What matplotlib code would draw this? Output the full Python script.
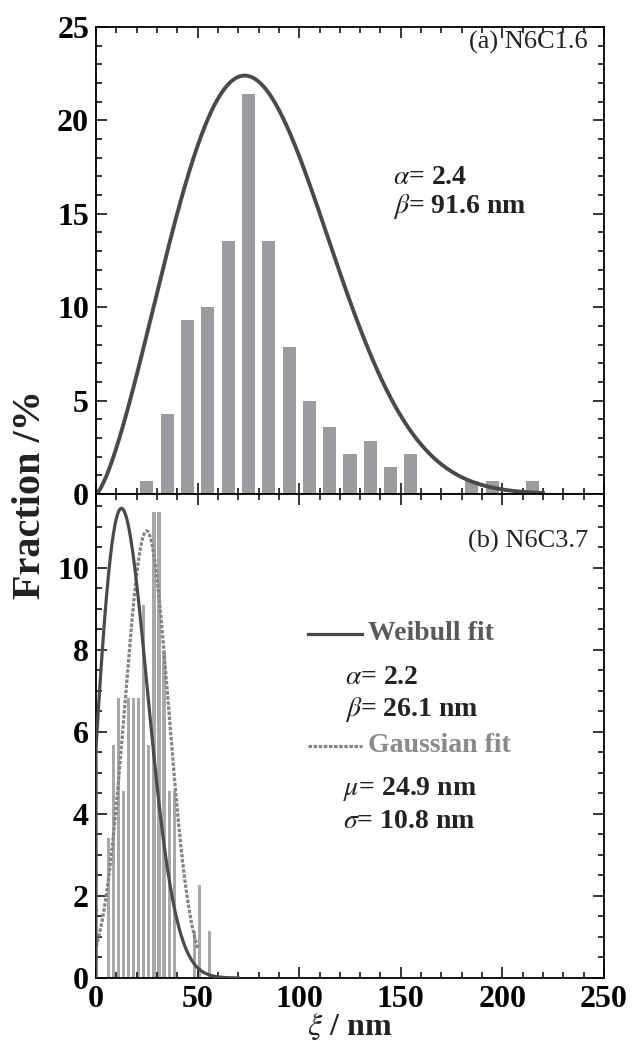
import numpy as np
import matplotlib
matplotlib.use('Agg')
import matplotlib.pyplot as plt
from matplotlib.ticker import MultipleLocator

plt.rcParams['font.family'] = 'Liberation Serif'
plt.rcParams['mathtext.fontset'] = 'stix'

# (a) N6C1.6 : correlation length histogram, 10 nm bins
xi_a = [25, 35, 45, 55, 65, 75, 85, 95, 105, 115, 125, 135, 145, 155, 185, 195, 215]
frac_a = [0.71, 4.29, 9.29, 10.0, 13.57, 21.43, 13.57, 7.86, 5.0, 3.57,
          2.14, 2.86, 1.43, 2.14, 0.71, 0.71, 0.71]
weib_a = (2.4, 91.6)
peak_a = 22.4

# (b) N6C3.7 : 2.5 nm bins
xi_b = [6, 8.5, 11, 13.5, 16, 18.5, 21, 23.5, 26, 28.5, 31, 33.5, 36, 38.5, 48.5, 51, 56]
frac_b = [3.41, 5.68, 6.82, 4.55, 6.82, 6.82, 6.82, 9.09, 5.68, 11.36, 11.36,
          7.95, 4.55, 4.55, 1.14, 2.27, 1.14]
weib_b = (2.2, 26.1)
weib_b_loc = -7.3
peak_wb = 11.45
gauss_b = (24.9, 10.8)
peak_gb = 10.9


def weibull(x, a, b, loc=0.0):
    t = np.clip((x - loc) / b, 0, None)
    return (a / b) * t ** (a - 1) * np.exp(-t ** a)


def gauss(x, mu, sig):
    return np.exp(-0.5 * ((x - mu) / sig) ** 2)


def style(ax, ymaj, ymin):
    ax.set_xlim(0, 250)
    ax.xaxis.set_major_locator(MultipleLocator(50))
    ax.xaxis.set_minor_locator(MultipleLocator(10))
    ax.yaxis.set_major_locator(MultipleLocator(ymaj))
    ax.yaxis.set_minor_locator(MultipleLocator(ymin))
    ax.tick_params(which='both', direction='in', top=True, right=True,
                   width=1.1, labelsize=23, pad=5)
    ax.tick_params(which='major', length=8)
    ax.tick_params(which='minor', length=4)
    for s in ax.spines.values():
        s.set_linewidth(1.3)


W, H = 632, 1041
L, R = 96, 604
fig = plt.figure(figsize=(W / 100, H / 100), dpi=100)
ax1 = fig.add_axes([L / W, 1 - 494 / H, (R - L) / W, 467 / H])
ax2 = fig.add_axes([L / W, 1 - 978 / H, (R - L) / W, 484 / H])


def px(x, y):
    # figure pixel position -> figure fraction
    return x / W, 1 - y / H


def note(x, y, s, **kw):
    kw.setdefault('fontsize', 20)
    kw.setdefault('fontweight', 'bold')
    kw.setdefault('color', '#222222')
    fig.text(*px(x, y), s, va='center', **kw)


# top panel
ax1.bar(xi_a, frac_a, width=6.4, color='#9b9ca0', zorder=1)
xa = np.linspace(0, 220, 600)
ya = weibull(xa, *weib_a)
ax1.plot(xa, ya / ya.max() * peak_a, color='#4a4a4a', lw=2.8, zorder=2)
ax1.set_ylim(0, 25)
style(ax1, 5, 1)
ax1.tick_params(labelbottom=False)

# bottom panel
ax2.bar(xi_b, frac_b, width=1.6, color='#a8a8a8', zorder=1)
xw = np.linspace(0, 70, 500)
yw = weibull(xw, *weib_b, loc=weib_b_loc)
yw = yw / yw.max() * peak_wb
ax2.plot(np.r_[0, xw], np.r_[0, yw], color='#4a4a4a', lw=2.3, zorder=3)
xg = np.linspace(0, 50, 400)
ax2.plot(xg, gauss(xg, *gauss_b) * peak_gb, color='#858585', lw=2.3,
         dashes=(1.1, 0.5), zorder=2)
ax2.set_ylim(0, 11.8)
style(ax2, 2, 0.5)
ax2.set_yticks([0, 2, 4, 6, 8, 10])

for ax in (ax1, ax2):
    for lab in ax.get_xticklabels() + ax.get_yticklabels():
        lab.set_fontweight('bold')

note(588, 42, '(a) N6C1.6', ha='right', fontsize=19, fontweight='normal')
note(393, 177, r'$\alpha$= 2.4', ha='left')
note(393, 207, r'$\beta$= 91.6 nm', ha='left')

lx = np.array([308, 362]) / W
fig.add_artist(plt.Line2D(lx, [1 - 634 / H] * 2, color='#4a4a4a', lw=2.3))
note(368, 634, 'Weibull fit', ha='left', color='#5a5a5a')
note(345, 677, r'$\alpha$= 2.2', ha='left')
note(345, 710, r'$\beta$= 26.1 nm', ha='left')
fig.add_artist(plt.Line2D(lx, [1 - 746 / H] * 2, color='#858585', lw=2.3,
                          dashes=(1.1, 0.5)))
note(368, 746, 'Gaussian fit', ha='left', color='#8a8a8a')
note(343, 789, r'$\mu$= 24.9 nm', ha='left')
note(343, 822, r'$\sigma$= 10.8 nm', ha='left')
note(588, 541, '(b) N6C3.7', ha='right', fontsize=19, fontweight='normal')

fig.text(*px(31, 495), 'Fraction /%', rotation=90, ha='center', va='center',
         fontsize=29, fontweight='bold', color='#222222')
fig.text(*px(350, 1027), r'$\xi$ / nm', ha='center', va='center',
         fontsize=23, fontweight='bold', color='#222222')

fig.savefig('out.png', dpi=100)
